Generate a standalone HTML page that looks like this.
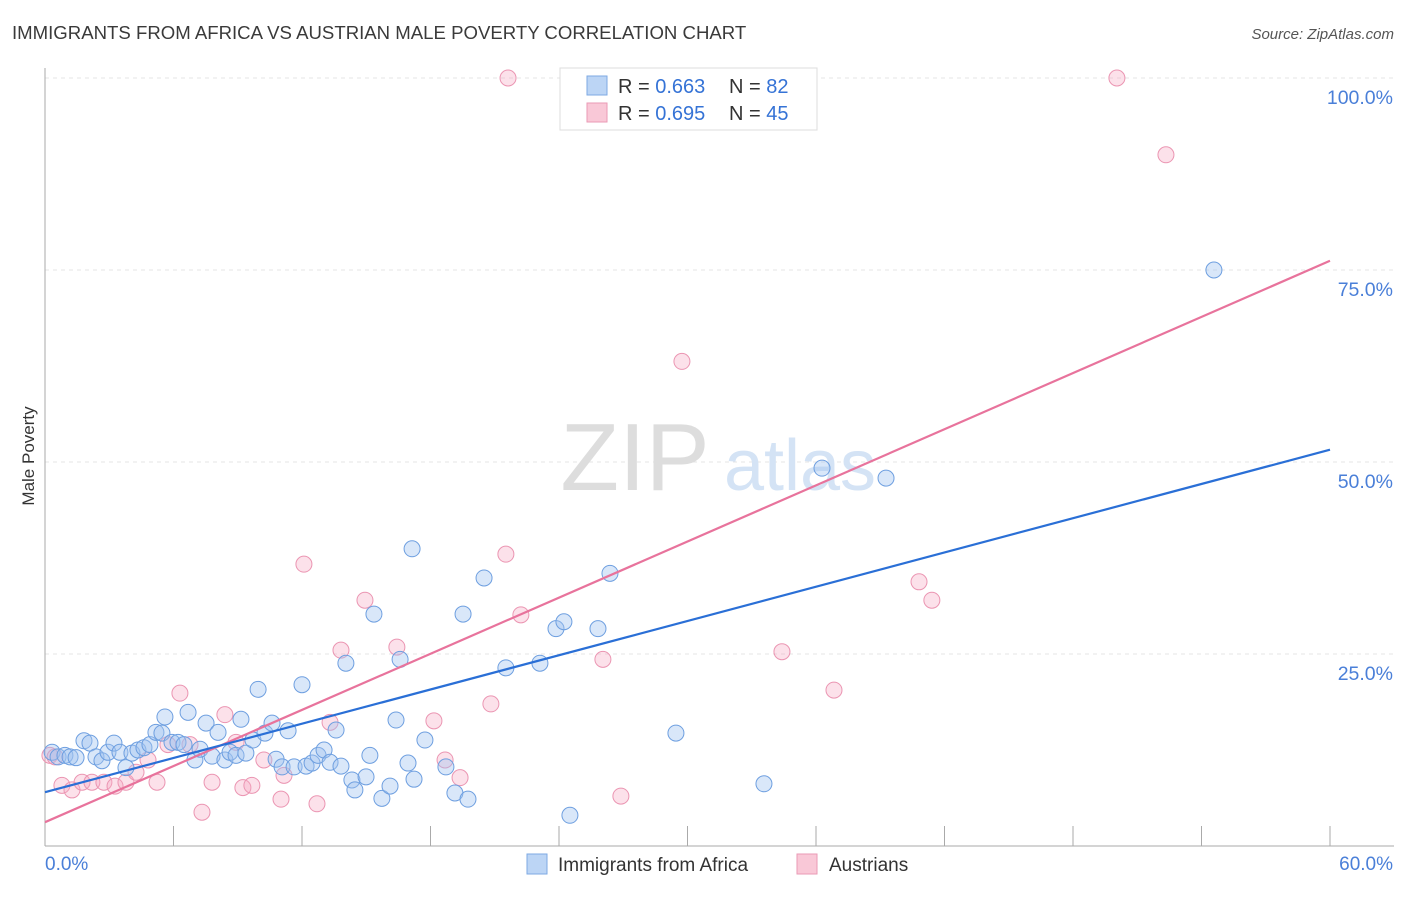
<!DOCTYPE html>
<html><head><meta charset="utf-8"><style>
body{margin:0;background:#fff;font-family:"Liberation Sans",sans-serif;}
svg text{font-family:"Liberation Sans",sans-serif;}
</style></head><body>
<svg id="chart" width="1406" height="892">
<text x="12" y="39" font-size="18.6" fill="#3a3a3a">IMMIGRANTS FROM AFRICA VS AUSTRIAN MALE POVERTY CORRELATION CHART</text>
<text x="1394" y="39" font-size="15" fill="#555" font-style="italic" text-anchor="end">Source: ZipAtlas.com</text>
<text x="34" y="456" font-size="17" fill="#333" transform="rotate(-90 34 456)" text-anchor="middle">Male Poverty</text>
<g id="grid"></g>
<text x="635" y="490" font-size="96" fill="#ddd" font-family="Liberation Serif" text-anchor="middle">ZIP</text>
<text x="800" y="490" font-size="72" fill="#d4e3f5" text-anchor="middle">atlas</text>
<g id="pts"></g>
<g id="lines"></g>
<g>
<rect x="560" y="68" width="257" height="62" fill="#fff" stroke="#ddd"/>
<rect x="587" y="76" width="20" height="19" fill="#bcd5f5" stroke="#7ea9e3"/>
<text x="618" y="93" font-size="20" fill="#333">R = <tspan fill="#3573d6">0.663</tspan></text>
<text x="729" y="93" font-size="20" fill="#333">N = <tspan fill="#3573d6">82</tspan></text>
<rect x="587" y="103" width="20" height="19" fill="#f9c8d7" stroke="#ea9ab5"/>
<text x="618" y="120" font-size="20" fill="#333">R = <tspan fill="#3573d6">0.695</tspan></text>
<text x="729" y="120" font-size="20" fill="#333">N = <tspan fill="#3573d6">45</tspan></text>
</g>
<g>
<rect x="527" y="854" width="20" height="20" fill="#bcd5f5" stroke="#7ea9e3"/>
<text x="558" y="871" font-size="19" fill="#333">Immigrants from Africa</text>
<rect x="797" y="854" width="20" height="20" fill="#f9c8d7" stroke="#ea9ab5"/>
<text x="829" y="871" font-size="19" fill="#333">Austrians</text>
</g>
</svg>
<script>
const yTicks=[25,50,75,100];
const yTickLabels=["25.0%","50.0%","75.0%","100.0%"];
const xTicks=[0,6,12,18,24,30,36,42,48,54,60];
const blueX=[0.33,0.61,0.93,1.17,1.45,1.82,2.10,2.38,2.66,2.94,3.22,3.50,3.78,4.06,4.34,4.62,4.90,5.18,5.46,5.60,5.93,6.21,6.49,6.68,7.00,7.24,7.52,7.80,8.08,8.40,8.64,8.92,9.15,9.38,9.71,9.95,10.27,10.60,10.79,11.07,11.35,11.63,12.00,12.19,12.47,12.75,13.03,13.31,13.59,13.82,14.05,14.33,14.47,14.99,15.17,15.36,15.73,16.11,16.39,16.58,16.95,17.14,17.23,17.74,18.72,19.14,19.52,19.75,20.50,21.52,23.11,23.86,24.23,24.51,25.82,26.38,29.46,33.57,36.28,39.27,54.58];
const blueY=[12.2,11.6,11.8,11.6,11.5,13.7,13.4,11.6,11.1,12.2,13.4,12.2,10.2,12.1,12.5,12.8,13.2,14.8,14.7,16.8,13.5,13.5,13.2,17.4,11.2,12.6,16.0,11.7,14.8,11.2,12.2,11.8,16.5,12.1,13.8,20.4,14.7,16.0,11.3,10.3,15.0,10.3,21.0,10.4,10.8,11.8,12.5,10.9,15.1,10.4,23.8,8.6,7.3,9.0,11.8,30.2,6.2,7.8,16.4,24.3,10.8,38.7,8.7,13.8,10.3,6.9,30.2,6.1,34.9,23.2,23.8,28.3,29.2,4.0,28.3,35.5,14.7,8.1,49.2,47.9,75.0];
const pinkX=[0.23,0.47,0.79,1.26,1.73,2.19,2.75,3.27,3.78,4.25,4.81,5.23,5.74,6.30,6.77,7.33,7.80,8.40,8.92,9.24,9.66,10.22,11.02,11.16,12.09,12.70,13.31,13.82,14.94,16.43,18.16,18.68,19.38,20.82,21.52,21.62,22.22,26.05,26.89,29.74,34.41,36.84,40.81,41.41,50.05,52.34];
const pinkY=[11.8,11.6,7.9,7.3,8.3,8.3,8.3,7.8,8.3,9.6,11.2,8.3,13.2,19.9,13.2,4.4,8.3,17.1,13.5,7.6,7.9,11.2,6.1,9.2,36.7,5.5,16.1,25.5,32.0,25.9,16.3,11.2,8.9,18.5,38.0,100,30.1,24.3,6.5,63.1,25.3,20.3,34.4,32.0,100,90.0];
const blueTrend=[7.0,51.6];
const pinkTrend=[3.1,76.2];
const trendX=[0,60];
const NS="http://www.w3.org/2000/svg";
const X=v=>45+v/60*1285, Y=v=>846-v/100*768;
function mk(t,a,p){const e=document.createElementNS(NS,t);for(const k in a)e.setAttribute(k,a[k]);p.appendChild(e);return e;}
const grid=document.getElementById('grid');
yTicks.forEach((t,i)=>{
 const l=mk('line',{x1:45,x2:1394,y1:Y(t),y2:Y(t),stroke:'#e4e4e4','stroke-dasharray':'4,4'},grid);
 
 
 const tx=mk('text',{x:1393,y:Y(t)+26,'font-size':19.5,fill:'#4a7fd8','text-anchor':'end'},grid);
 tx.textContent=yTickLabels[i];
 
 
});
const ax=mk('line',{x1:45,x2:45,y1:68,y2:846,stroke:'#aaa'},grid);


const bx=mk('line',{x1:45,x2:1394,y1:846,y2:846,stroke:'#aaa'},grid);


xTicks.forEach(t=>{const l=mk('line',{x1:X(t),x2:X(t),y1:826,y2:846,stroke:'#aaa'},grid);
 
 });
const x0=mk('text',{x:45,y:870,'font-size':19,fill:'#4a7fd8'},grid);x0.textContent=xTicks[0].toFixed(1)+'%';


const x1=mk('text',{x:1393,y:870,'font-size':19,fill:'#4a7fd8','text-anchor':'end'},grid);x1.textContent=xTicks[xTicks.length-1].toFixed(1)+'%';


const pts=document.getElementById('pts');
pinkX.forEach((v,i)=>{const c=mk('circle',{cx:X(v),cy:Y(pinkY[i]),r:8,fill:'rgba(245,170,195,0.35)',stroke:'#eb95b2','stroke-width':1},pts);
 
 });
blueX.forEach((v,i)=>{const c=mk('circle',{cx:X(v),cy:Y(blueY[i]),r:8,fill:'rgba(160,195,240,0.4)',stroke:'#6e9fe0','stroke-width':1},pts);
 
 });
const ln=document.getElementById('lines');
const pl=mk('line',{x1:X(trendX[0]),x2:X(trendX[1]),y1:Y(pinkTrend[0]),y2:Y(pinkTrend[1]),stroke:'#e8739c','stroke-width':2.2},ln);


const bl=mk('line',{x1:X(trendX[0]),x2:X(trendX[1]),y1:Y(blueTrend[0]),y2:Y(blueTrend[1]),stroke:'#2a6fd6','stroke-width':2.2},ln);


</script>
</body></html>
